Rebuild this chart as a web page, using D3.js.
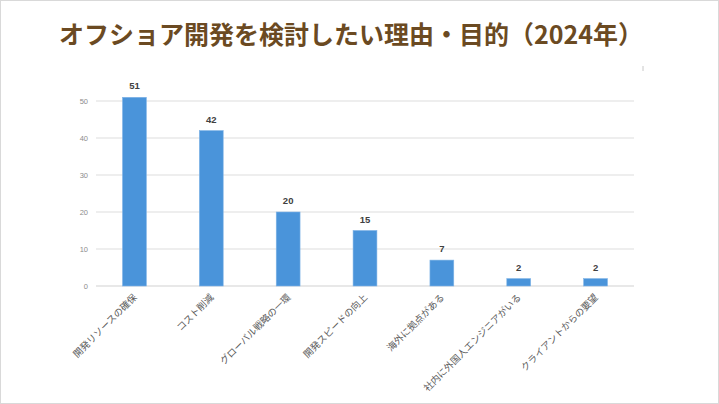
<!DOCTYPE html>
<html><head><meta charset="utf-8">
<script src="https://cdn.jsdelivr.net/npm/d3@7"></script>
<style>
html,body{margin:0;padding:0;background:#fff;}
svg{display:block;font-family:"Noto Sans CJK JP","Noto Sans",sans-serif;}
</style></head>
<body>
<svg id="c" width="719" height="404"></svg>
<script>
const title = "オフショア開発を検討したい理由・目的（2024年）";
const categories = ["開発リソースの確保","コスト削減","グローバル戦略の一環","開発スピードの向上","海外に拠点がある","社内に外国人エンジニアがいる","クライアントからの要望"];
const values = [51,42,20,15,7,2,2];
const yTicks = [0,10,20,30,40,50];

const svg = d3.select("#c");
const W = 719, H = 404;
svg.append("rect").attr("x",0.5).attr("y",0.5).attr("width",W-1).attr("height",H-1)
  .attr("fill","#fff").attr("stroke","#d9d9d9").attr("stroke-width",1);

svg.append("text").attr("x",351).attr("y",44).attr("text-anchor","middle")
  .attr("font-size",25).attr("font-weight","bold").attr("fill","#6b4a22").text(title);

const left = 96, right = 634;
const x = d3.scaleBand().domain(categories).range([left,right]).paddingInner(0.69).paddingOuter(0.345);
const y = d3.scaleLinear().domain([0,50]).range([286,101]);

const g = svg.append("g");
g.selectAll("line.grid").data(yTicks).enter().append("line")
  .attr("x1",left).attr("x2",right).attr("y1",d=>y(d)).attr("y2",d=>y(d))
  .attr("stroke",d=>d===0?"#e0e0e0":"#e8e8e8").attr("stroke-width",1.5);

const yAxis = d3.axisLeft(y).tickValues(yTicks).tickSize(0).tickPadding(8);
const ya = g.append("g").attr("transform",`translate(${left},0)`).call(yAxis);
ya.select(".domain").remove();
ya.selectAll("text").attr("font-size",7.5).attr("fill","#8c8c8c").attr("font-family","Liberation Sans, Arial, sans-serif");

g.selectAll("rect.bar").data(values).enter().append("rect")
  .attr("x",(d,i)=>x(categories[i])).attr("width",x.bandwidth())
  .attr("y",d=>y(d)).attr("height",d=>y(0)-y(d))
  .attr("fill","#4a94da").attr("stroke","#7fb3e6").attr("stroke-width",0.6);

g.selectAll("text.val").data(values).enter().append("text")
  .attr("x",(d,i)=>x(categories[i])+x.bandwidth()/2).attr("y",d=>y(d)-8)
  .attr("text-anchor","middle").attr("font-size",9.5).attr("font-weight","bold")
  .attr("fill","#404040").attr("font-family","Liberation Sans, Arial, sans-serif").text(d=>d);

const xAxis = d3.axisBottom(x).tickSize(0).tickPadding(0);
const xa = g.append("g").attr("transform",`translate(0,${y(0)})`).call(xAxis);
xa.select(".domain").remove();
xa.selectAll("text").attr("font-size",9.5).attr("fill","#595959")
  .attr("text-anchor","end").attr("dy",0)
  .attr("transform","translate(3,12) rotate(-45)")
  .attr("font-family","Noto Sans CJK JP, sans-serif");

svg.append("line").attr("x1",643).attr("x2",643).attr("y1",66).attr("y2",71)
  .attr("stroke","#c8c8c8").attr("stroke-width",1);
</script>
</body></html>
